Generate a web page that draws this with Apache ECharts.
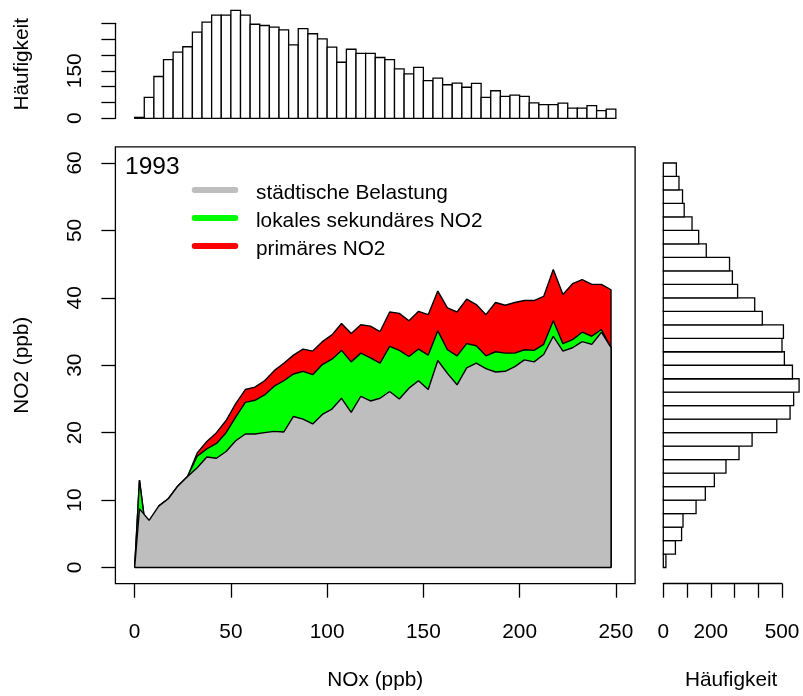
<!DOCTYPE html>
<html><head><meta charset="utf-8">
<script src="https://cdn.jsdelivr.net/npm/echarts@6/dist/echarts.min.js"></script>
<style>html,body{margin:0;padding:0;background:#fff}#c{width:803px;height:696px}</style>
</head><body><div id="c"></div>
<script>
// ---- data ----
const noxMid = [2.5,7.5,12.5,17.5,22.5,27.5,32.5,37.5,42.5,47.5,52.5,57.5,62.5,67.5,72.5,77.5,82.5,87.5,92.5,97.5,102.5,107.5,112.5,117.5,122.5,127.5,132.5,137.5,142.5,147.5,152.5,157.5,162.5,167.5,172.5,177.5,182.5,187.5,192.5,197.5,202.5,207.5,212.5,217.5,222.5,227.5,232.5,237.5,242.5,247.5];
const urbanBackground = [8.7,7.0,9.1,10.2,12.1,13.5,14.8,16.4,16.2,17.2,18.8,19.8,19.8,20.0,20.2,20.1,22.4,22.0,21.3,22.7,23.5,25.1,23.0,25.4,24.7,25.1,26.1,25.0,26.6,27.7,26.4,30.7,28.8,27.1,29.6,30.3,29.5,29.0,29.1,29.8,30.8,30.5,31.6,34.3,32.1,32.6,33.5,33.1,34.9,32.6];
const localSecondary = [4.25,-5.2,0,0,0,0,1.7,1.2,2.2,2.8,3.5,4.7,5.0,5.6,6.7,7.6,6.3,7.1,7.3,7.4,7.4,7.1,7.5,6.4,6.4,5.2,6.7,7.2,4.7,4.7,5.1,4.4,3.5,4.3,3.6,2.6,1.9,3.0,2.7,2.0,1.5,1.7,1.5,2.3,1.1,1.2,1.4,1.2,0.4,0.0];
const primaryNO2 = [0,0,0,0,0,0,0.5,1.1,1.6,1.8,2.0,1.9,1.95,2.1,2.3,2.6,2.8,3.3,3.5,3.4,3.6,4.0,4.2,4.2,4.7,4.7,5.1,5.5,5.3,5.6,6.0,5.9,6.2,6.5,6.6,6.1,6.1,7.3,7.1,7.5,7.3,7.4,7.1,7.6,7.3,8.3,7.8,7.7,6.7,8.6];
const noxBreaks = [0,5,10,15,20,25,30,35,40,45,50,55,60,65,70,75,80,85,90,95,100,105,110,115,120,125,130,135,140,145,150,155,160,165,170,175,180,185,190,195,200,205,210,215,220,225,230,235,240,245,250];
const noxCounts = [3,66,132,185,209,226,272,304,326,326,341,326,297,293,288,279,232,283,267,251,225,177,218,205,205,192,185,156,140,161,119,127,106,111,98,110,66,87,69,73,69,49,43,43,48,32,32,40,24,29];
const no2Breaks = [0,2,4,6,8,10,12,14,16,18,20,22,24,26,28,30,32,34,36,38,40,42,44,46,48,50,52,54,56,58,60];
const no2Counts = [11,51,77,83,138,177,215,264,319,374,478,534,549,572,544,510,500,506,417,385,313,291,279,181,149,121,88,81,66,55];
const xTicks = [0,50,100,150,200,250];
const yTicks = [0,10,20,30,40,50,60];
const topHistTicks = [0,50,100,150,200,250,300];
const topHistLabels = [0,150];
const rightHistTicks = [0,100,200,300,400,500];
const rightHistLabels = [0,200,500];
const yearLabel = '1993';
const seriesNames = ['städtische Belastung','lokales sekundäres NO2','primäres NO2'];
const seriesColors = ['#BEBEBE','#00FF00','#FF0000'];

// ---- build ----
const FONT = '"Liberation Sans", Arial, Helvetica, sans-serif';
const FS = 20.8;
const txt = {color:'#000', fontSize:FS, fontFamily:FONT};
const cumGrey = urbanBackground.slice();
const cumGreen = urbanBackground.map((v,i)=>v+localSecondary[i]);
const cumTotal = cumGreen.map((v,i)=>v+primaryNO2[i]);
const xEnd = noxMid[noxMid.length-1];
function closed(vals){
  const pts=[[noxBreaks[0],0]];
  noxMid.forEach((x,i)=>pts.push([x,vals[i]]));
  pts.push([xEnd,0]);
  return pts;
}
function areaSeries(name, vals, color, z){
  return {type:'line', name, z, xAxisIndex:0, yAxisIndex:0, data:closed(vals), showSymbol:false, symbol:'none',
    lineStyle:{color:'#000', width:1.4}, areaStyle:{color, opacity:1, origin:0}, silent:true, animation:false};
}
const boxStroke = {stroke:'#000', lineWidth:1.3, fill:'#fff'};
const tickStyle = {color:'#000', width:1.3};

const chart = echarts.init(document.getElementById('c'), null, {renderer:'canvas'});
chart.setOption({
  animation:false,
  backgroundColor:'#fff',
  title:{text:yearLabel, left:125, top:154.5, padding:0, textStyle:{fontSize:24.5, fontWeight:'normal', color:'#000', fontFamily:FONT}},
  grid:[
    {left:115.4, top:146.8, width:519.7, height:436.9, show:true, borderColor:'#000', borderWidth:1.3, backgroundColor:'transparent', containLabel:false, outerBoundsMode:'none'},
    {left:115.4, top:23.3, width:519.7, height:95, show:false, containLabel:false, outerBoundsMode:'none'},
    {left:663.3, top:146.8, width:118.7, height:436.9, show:false, containLabel:false, outerBoundsMode:'none'}
  ],
  xAxis:[
    {gridIndex:0, type:'value', position:'bottom', min:-10, max:260, axisLine:{show:false, onZero:false}, splitLine:{show:false},
     axisTick:{show:true, inside:false, customValues:xTicks, length:14, lineStyle:tickStyle},
     axisLabel:{customValues:xTicks, margin:38, ...txt},
     name:'NOx (ppb)', nameLocation:'middle', nameGap:86.5, nameTextStyle:{...txt}},
    {gridIndex:1, type:'value', min:-10, max:260, show:false},
    {gridIndex:2, type:'value', position:'bottom', min:0, max:500, splitLine:{show:false},
     axisLine:{show:true, onZero:false, lineStyle:tickStyle},
     axisTick:{show:true, inside:false, customValues:rightHistTicks, length:14, lineStyle:tickStyle},
     axisLabel:{customValues:rightHistLabels, margin:38, ...txt},
     name:'Häufigkeit', nameLocation:'middle', nameGap:86.5, nameTextStyle:{...txt, padding:[0,0,0,17]}}
  ],
  yAxis:[
    {gridIndex:0, type:'value', position:'left', min:-2.4, max:62.4, axisLine:{show:false, onZero:false}, splitLine:{show:false},
     axisTick:{show:true, inside:false, customValues:yTicks, length:14, lineStyle:tickStyle},
     axisLabel:{customValues:yTicks, rotate:90, margin:30, ...txt},
     name:'NO2 (ppb)', nameLocation:'middle', nameGap:83, nameRotate:90, nameTextStyle:{...txt}},
    {gridIndex:1, type:'value', position:'left', min:0, max:300, splitLine:{show:false},
     axisLine:{show:true, onZero:false, lineStyle:tickStyle},
     axisTick:{show:true, inside:false, customValues:topHistTicks, length:14, lineStyle:tickStyle},
     axisLabel:{customValues:topHistLabels, rotate:90, margin:30, ...txt},
     name:'Häufigkeit', nameLocation:'middle', nameGap:83, nameRotate:90, nameTextStyle:{...txt, padding:[0,0,0,13]}},
    {gridIndex:2, type:'value', min:-2.4, max:62.4, show:false}
  ],
  series:[
    areaSeries(seriesNames[2], cumTotal, seriesColors[2], 2),
    areaSeries(seriesNames[1], cumGreen, seriesColors[1], 3),
    areaSeries(seriesNames[0], cumGrey, seriesColors[0], 4),
    {type:'line', name:'baseline', z:5, xAxisIndex:0, yAxisIndex:0, data:[[noxBreaks[0],0],[xEnd,0]], symbol:'none', lineStyle:{color:'#000', width:1.4}, silent:true},
    {type:'custom', name:'NOx hist', xAxisIndex:1, yAxisIndex:1, clip:false, silent:true,
     data:noxCounts.map((c,i)=>[noxBreaks[i], noxBreaks[i+1], c]),
     encode:{x:[0,1], y:2},
     renderItem:function(params, api){
       const p0 = api.coord([api.value(0), 0]);
       const p1 = api.coord([api.value(1), api.value(2)]);
       return {type:'rect', shape:{x:p0[0], y:p1[1], width:p1[0]-p0[0], height:p0[1]-p1[1]}, style:boxStroke};
     }},
    {type:'custom', name:'NO2 hist', xAxisIndex:2, yAxisIndex:2, clip:false, silent:true,
     data:no2Counts.map((c,i)=>[no2Breaks[i], no2Breaks[i+1], c]),
     encode:{x:2, y:[0,1]},
     renderItem:function(params, api){
       const p0 = api.coord([0, api.value(0)]);
       const p1 = api.coord([api.value(2), api.value(1)]);
       return {type:'rect', shape:{x:p0[0], y:p1[1], width:p1[0]-p0[0], height:p0[1]-p1[1]}, style:boxStroke};
     }}
  ],
  graphic: seriesNames.map((n,i)=>({type:'group', children:[
      {type:'line', shape:{x1:194.7, y1:190+28*i, x2:235.3, y2:190+28*i}, style:{stroke:seriesColors[i], lineWidth:6, lineCap:'round'}},
      {type:'text', x:256, y:193+28*i, style:{text:n, fill:'#000', fontSize:FS, fontFamily:FONT, verticalAlign:'middle', align:'left'}}
  ]}))
});
</script></body></html>
